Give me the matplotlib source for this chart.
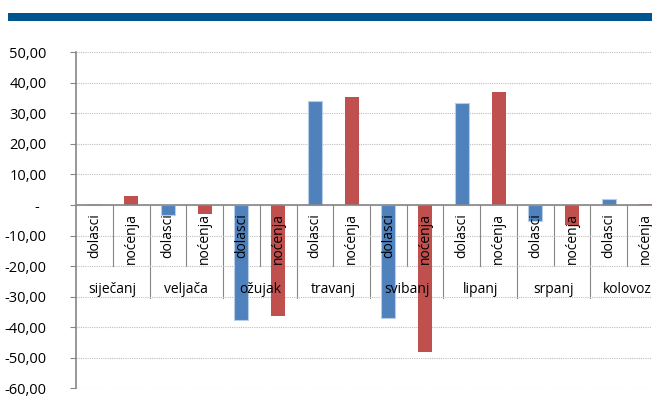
import matplotlib
matplotlib.use("Agg")
import matplotlib.pyplot as plt
from matplotlib.ticker import FuncFormatter, MultipleLocator
from matplotlib.patches import Rectangle
import numpy as np

months = ["siječanj", "veljača", "ožujak", "travanj", "svibanj", "lipanj", "srpanj", "kolovoz"]
series = ["dolasci", "noćenja"]
dolasci = [0.3, -3.2, -37.5, 34.2, -37.1, 33.3, -5.1, 2.0]
nocenja = [2.8, -3.0, -36.3, 35.3, -48.0, 36.9, -6.5, 0.3]

blue = "#4F81BD"
red = "#C0504D"
spine_c = "#868686"

plt.rcParams['font.family'] = ['Open Sans', 'DejaVu Sans']
fig = plt.figure(figsize=(6.52, 4.17), dpi=100)

# top band
fig.patches.append(Rectangle((8/652, 1-21/417), 1, 8/417, transform=fig.transFigure,
                             facecolor="#00558F", edgecolor="none"))

ax = fig.add_axes([76/652, 1-388.3/417, 588/652, (388.3-52.3)/417])
n = len(months)
xd = np.arange(n) * 2
xn = xd + 1
w = 0.38
ax.bar(xd, dolasci, width=w, color=blue, edgecolor="#B9CDE5", linewidth=0.8, zorder=2)
ax.bar(xn, nocenja, width=w, color=red, edgecolor="none", zorder=2)

ax.set_xlim(-0.5, 2*n - 0.5)
ax.set_ylim(-60, 50)
ax.yaxis.set_major_locator(MultipleLocator(10))

def fmt(v, pos):
    if abs(v) < 1e-9:
        return "-  "
    return f"{v:.2f}".replace(".", ",")
ax.yaxis.set_major_formatter(FuncFormatter(fmt))
ax.tick_params(axis="y", direction="out", length=4, width=0.8, color=spine_c,
               pad=17, labelsize=10.5, labelcolor="#000000")
ax.set_xticks([])
ax.grid(axis="y", color="#BFBFBF", linestyle=(0, (1, 1)), linewidth=0.8, zorder=0)
for s in ["top", "right", "bottom"]:
    ax.spines[s].set_visible(False)
ax.spines["left"].set_color(spine_c)
ax.spines["left"].set_linewidth(1.2)
ax.axhline(0, color=spine_c, linewidth=1.2, zorder=3)

# category axis labels
for i in range(n):
    for j, lab in enumerate(series):
        x = 2*i + j
        ax.annotate(lab, xy=(x, 0), xytext=(0, -6), textcoords="offset points",
                    rotation=90, ha="center", va="top", fontsize=10, zorder=4,
                    annotation_clip=False)
    ax.annotate(months[i], xy=(2*i + 0.5, 0), xytext=(0, -61), textcoords="offset points",
                ha="center", va="center", fontsize=10, zorder=4, annotation_clip=False)
    # short separator between series
    ax.plot([2*i + 0.5]*2, [0, -20], color=spine_c, linewidth=0.8, zorder=1)
    # long separator after month
    ax.plot([2*i + 1.5]*2, [0, -30.5], color=spine_c, linewidth=0.8, zorder=1, clip_on=False)

fig.savefig("out.png", dpi=100)
